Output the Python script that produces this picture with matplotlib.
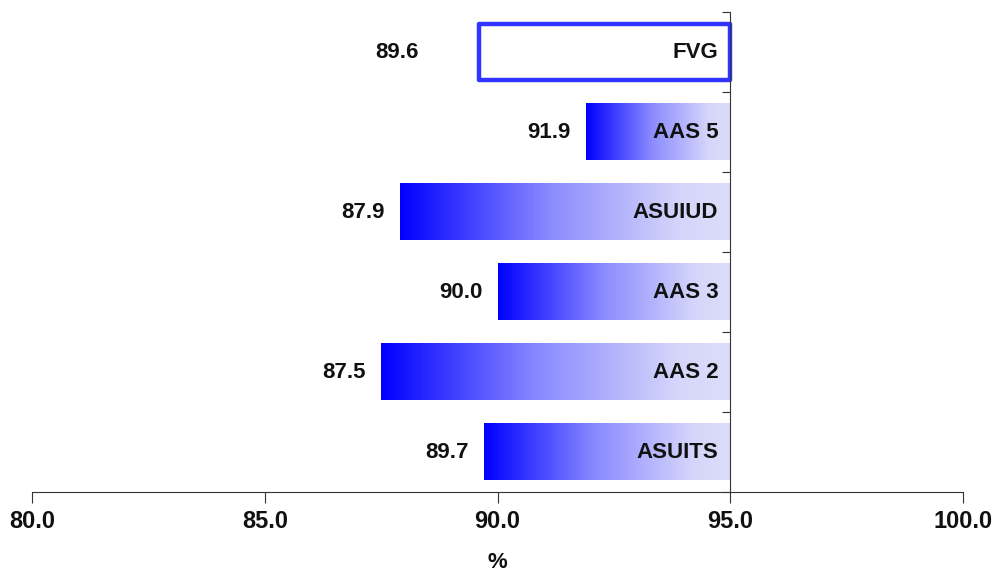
import numpy as np
import matplotlib.pyplot as plt
from matplotlib.colors import LinearSegmentedColormap

categorie = ['FVG', 'AAS 5', 'ASUIUD', 'AAS 3', 'AAS 2', 'ASUITS']
valori = [89.6, 91.9, 87.9, 90.0, 87.5, 89.7]
base = 95.0
xticks = [80.0, 85.0, 90.0, 95.0, 100.0]

plt.rcParams['font.family'] = ['Liberation Sans', 'DejaVu Sans']

fig = plt.figure(figsize=(9.92, 5.74), dpi=100)
ax = fig.add_axes([32 / 992, 1 - 492 / 574, (963 - 32) / 992, 480 / 574])

cmap = LinearSegmentedColormap.from_list(
    'sfumato', [(0.0, '#0000ff'), (0.45, '#8a8aff'), (0.85, '#d6d6fb'), (1.0, '#dcdcf9')])
# gradiente orizzontale (piu' righe per evitare artefatti sui bordi)
grad = np.tile(np.linspace(0, 1, 256), (4, 1))

alt = 0.71

for i, (cat, v) in enumerate(zip(categorie, valori)):
    if cat == 'FVG':
        ax.barh(i, base - v, left=v, height=alt, facecolor='white',
                edgecolor='#3333ff', linewidth=3.2, joinstyle='round', zorder=2)
        off = -60
    else:
        ax.imshow(grad, extent=[v, base, i + alt / 2, i - alt / 2], aspect='auto',
                  cmap=cmap, zorder=1, interpolation='nearest')
        off = -15
    ax.annotate(f'{v:.1f}', xy=(v, i), xytext=(off, 0), textcoords='offset pixels',
                ha='right', va='center', fontsize=16, fontweight='bold', color='#111111')
    ax.annotate(cat, xy=(base, i), xytext=(-12, 0), textcoords='offset pixels',
                ha='right', va='center', fontsize=16, fontweight='bold', color='#111111')

ax.set_xlim(80, 100)
ax.set_ylim(len(categorie) - 0.5, -0.5)

ax.spines['top'].set_visible(False)
ax.spines['right'].set_visible(False)
ax.spines['left'].set_position(('data', base))
ax.spines['left'].set_color('#333333')
ax.spines['bottom'].set_color('#333333')
ax.spines['left'].set_zorder(3)

ax.set_yticks(np.arange(-0.5, len(categorie), 1.0))
ax.set_yticklabels([])
ax.tick_params(axis='y', direction='out', length=6, color='#333333')

ax.set_xticks(xticks)
ax.set_xticklabels([f'{t:.1f}' for t in xticks], fontsize=17, fontweight='bold',
                   color='#111111')
ax.tick_params(axis='x', direction='out', length=8, pad=5, color='#333333')

ax.set_xlabel('%', fontsize=16, fontweight='bold', labelpad=14, color='#111111')

fig.savefig('out.png', dpi=100)
